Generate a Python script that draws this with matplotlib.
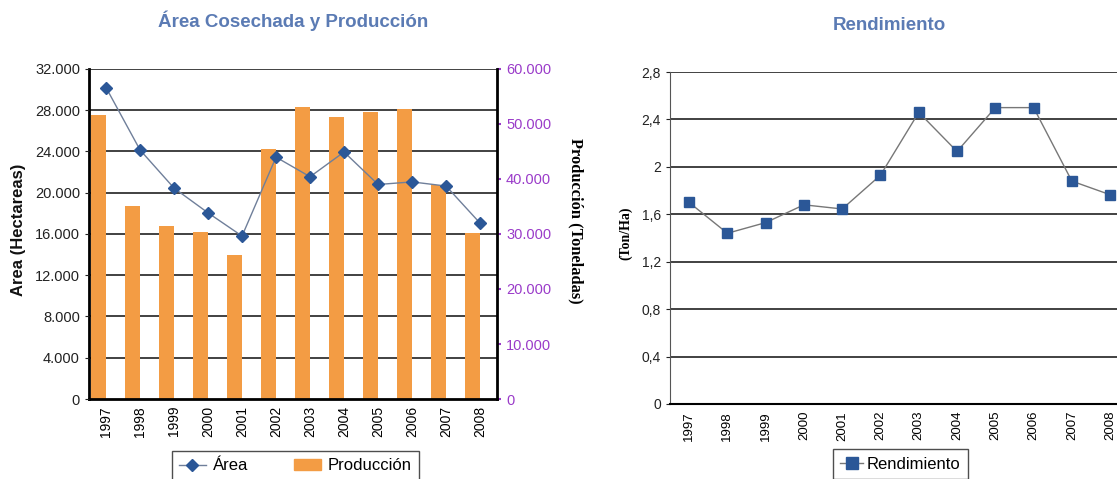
import matplotlib.pyplot as plt
from matplotlib.ticker import FuncFormatter, MultipleLocator
from matplotlib.lines import Line2D
from matplotlib.patches import Patch

years = ["1997", "1998", "1999", "2000", "2001", "2002",
         "2003", "2004", "2005", "2006", "2007", "2008"]
area = [30200, 24150, 20450, 18050, 15800, 23450,
        21550, 23950, 20800, 21050, 20650, 17050]
produccion = [51600, 35100, 31450, 30350, 26200, 45450,
              53150, 51200, 52100, 52750, 38900, 30100]
rendimiento = [1.70, 1.44, 1.53, 1.68, 1.645, 1.93,
               2.46, 2.13, 2.50, 2.50, 1.88, 1.765]

plt.rcParams['font.family'] = ['Liberation Sans', 'DejaVu Sans']

title_color = '#5B7BB4'
bar_color = '#F39C44'
marker_color = '#2B5797'
line_color = '#6F7F9A'
grid_color = '#333333'
purple = '#9A3BC9'


def thousands(v, pos):
    return f"{int(v):,}".replace(",", ".")


def decimal_comma(v, pos):
    s = f"{v:.1f}".rstrip("0").rstrip(".")
    return s.replace(".", ",")


fig = plt.figure(figsize=(11.17, 4.79), dpi=100)
x = list(range(len(years)))

# --- left chart: area and production ---
ax = fig.add_axes([0.0797, 0.167, 0.3653, 0.689])
ax2 = ax.twinx()
ax.set_zorder(ax2.get_zorder() + 1)
ax.patch.set_visible(False)

ax2.bar([i - 0.22 for i in x], produccion, width=0.45, color=bar_color, zorder=2)
ax2.set_ylim(0, 60000)
ax2.yaxis.set_major_locator(MultipleLocator(10000))
ax2.yaxis.set_major_formatter(FuncFormatter(thousands))
ax2.tick_params(axis='y', colors=purple, labelsize=10.5, length=3, width=1.5)

ax.plot(x, area, color=line_color, lw=1.0, marker='D', ms=6,
        mfc=marker_color, mec=marker_color, zorder=3)
ax.set_ylim(0, 32000)
ax.set_xlim(-0.5, len(years) - 0.5)
ax.yaxis.set_major_locator(MultipleLocator(4000))
ax.yaxis.set_major_formatter(FuncFormatter(thousands))
ax.tick_params(axis='y', labelsize=10.5, length=3, colors='#222222')
ax.set_xticks(x)
ax.set_xticklabels(years, rotation=90, fontsize=10)
ax.tick_params(axis='x', length=0, pad=5)

for v in range(4000, 32001, 4000):
    ax2.axhline(v * 60000 / 32000, color=grid_color, lw=1.3, zorder=1)

for a in (ax, ax2):
    for s in a.spines.values():
        s.set_visible(False)
ax2.spines['left'].set_visible(True)
ax2.spines['left'].set_linewidth(2)
ax2.spines['bottom'].set_visible(True)
ax2.spines['bottom'].set_linewidth(2)
ax2.spines['right'].set_visible(True)
ax2.spines['right'].set_linewidth(2)

fig.text(0.262, 0.956, "Área Cosechada y Producción", ha='center', va='center',
         fontsize=13.5, fontweight='bold', color=title_color)
fig.text(0.017, 0.52, "Area (Hectareas)", rotation=90, ha='center', va='center',
         fontsize=12, fontweight='bold', color='#111111')
fig.text(0.515, 0.538, "Producción (Toneladas)", rotation=270, ha='center', va='center',
         fontsize=11.8, fontweight='bold', family=['Liberation Serif', 'DejaVu Serif'])

handles = [Line2D([], [], color=line_color, lw=1.0, marker='D', ms=6.5,
                  mfc=marker_color, mec=marker_color),
           Patch(color=bar_color)]
leg = fig.legend(handles, ["Área", "Producción"], loc='upper center',
                 bbox_to_anchor=(0.2645, 0.0585), ncol=2, fontsize=12,
                 frameon=True, fancybox=False, edgecolor='#222222',
                 handlelength=1.6, columnspacing=2.8, borderpad=0.45,
                 handletextpad=0.4, borderaxespad=0)
leg.get_frame().set_linewidth(1.0)

# --- right chart: yield ---
bx = fig.add_axes([0.5998, 0.1566, 0.4112, 0.693])
bx.plot(x, rendimiento, color='#777777', lw=1.0, marker='s', ms=6.5,
        mfc=marker_color, mec=marker_color, zorder=3)
bx.set_ylim(0, 2.8)
bx.set_xlim(-0.5, len(years) - 0.5)
bx.yaxis.set_major_locator(MultipleLocator(0.4))
bx.yaxis.set_major_formatter(FuncFormatter(decimal_comma))
bx.tick_params(axis='y', labelsize=10, length=3, colors='#222222')
bx.set_xticks(x)
bx.set_xticklabels(years, rotation=90, fontsize=9.5)
bx.tick_params(axis='x', length=0, pad=5)
for v in [0.4, 0.8, 1.2, 1.6, 2.0, 2.4, 2.8]:
    bx.axhline(v, color=grid_color, lw=1.3, zorder=1)
for s in bx.spines.values():
    s.set_visible(False)
bx.spines['left'].set_visible(True)
bx.spines['left'].set_color('#555555')
bx.spines['bottom'].set_visible(True)
bx.spines['bottom'].set_linewidth(1.5)

fig.text(0.796, 0.946, "Rendimiento", ha='center', va='center',
         fontsize=13.5, fontweight='bold', color=title_color)
fig.text(0.56, 0.513, "(Ton/Ha)", rotation=90, ha='center', va='center',
         fontsize=10, fontweight='bold', family=['Liberation Serif', 'DejaVu Serif'])

leg2 = fig.legend([Line2D([], [], color='#777777', lw=1.0, marker='s', ms=9,
                          mfc=marker_color, mec=marker_color)],
                  ["Rendimiento"], loc='upper center',
                  bbox_to_anchor=(0.806, 0.0626), fontsize=12,
                  frameon=True, fancybox=False, edgecolor='#222222',
                  handlelength=1.4, borderpad=0.45, handletextpad=0.2,
                  borderaxespad=0)
leg2.get_frame().set_linewidth(1.0)

fig.savefig("out.png", dpi=100)
